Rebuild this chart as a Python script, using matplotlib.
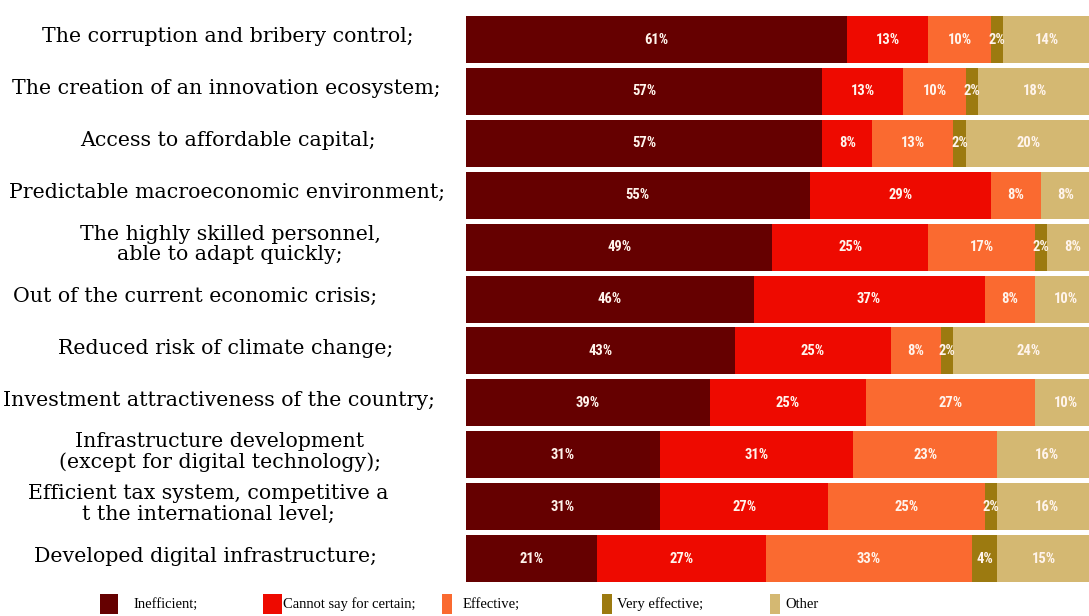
import numpy as np
import matplotlib
matplotlib.use("Agg")
import matplotlib.pyplot as plt
import matplotlib.transforms as mtransforms
from matplotlib import font_manager
from matplotlib.patches import Rectangle

# data (top to bottom)
categories = [
    "The corruption and bribery control;",
    "The creation of an innovation ecosystem;",
    "Access to affordable capital;",
    "Predictable macroeconomic environment;",
    "The highly skilled personnel,\nable to adapt quickly;",
    "Out of the current economic crisis;",
    "Reduced risk of climate change;",
    "Investment attractiveness of the country;",
    "Infrastructure development\n(except for digital technology);",
    "Efficient tax system, competitive a\nt the international level;",
    "Developed digital infrastructure;",
]
inefficient    = [61, 57, 57, 55, 49, 46, 43, 39, 31, 31, 21]
cannot_say     = [13, 13, 8, 29, 25, 37, 25, 25, 31, 27, 27]
effective      = [10, 10, 13, 8, 17, 8, 8, 27, 23, 25, 33]
very_effective = [2, 2, 2, 0, 2, 0, 2, 0, 0, 2, 4]
other          = [14, 18, 20, 8, 8, 10, 24, 10, 16, 16, 15]

series_names = ["Inefficient;", "Cannot say for certain;", "Effective;",
                "Very effective;", "Other"]
colors = ["#650000", "#EE0A00", "#FA6A30", "#9C7A10", "#D4B872"]

# layout of the text (pixels)
label_cx = [228, 226, 228, 227, 230, 195, 226, 219, 220, 208, 205]
legend_patch_x = [100, 263, 442, 602, 770]
legend_patch_w = [18, 19, 10, 10, 10]
legend_text_x = [133, 283, 463, 617, 785]

# pick fonts
avail = set(f.name for f in font_manager.fontManager.ttflist)
serif_font = "DejaVu Serif"
legend_font = "Liberation Serif" if "Liberation Serif" in avail else "DejaVu Serif"
num_font = "DejaVu Sans"
for name in ["Liberation Sans Narrow", "DejaVu Sans Condensed", "Roboto Condensed"]:
    if name in avail:
        num_font = name
        break

W, H = 1089, 616
fig = plt.figure(figsize=(W / 100, H / 100), dpi=100)
ax = fig.add_axes([466 / W, 0.051, 625 / W, 0.927])

data = np.array([inefficient, cannot_say, effective, very_effective, other], dtype=float)
y = np.arange(len(categories))
left = np.zeros(len(categories))
for i, vals in enumerate(data):
    ax.barh(y, vals, left=left, height=0.905, color=colors[i], edgecolor="none")
    for j, v in enumerate(vals):
        if v > 0:
            ax.text(left[j] + v / 2, y[j], f"{int(v)}%", ha="center", va="center",
                    color="#FFF4EC", fontsize=10.5, fontweight="bold", family=num_font)
    left += vals

ax.set_xlim(0, 100)
ax.set_ylim(len(categories) - 0.5, -0.5)
ax.axis("off")

# category labels on the left
trans = mtransforms.blended_transform_factory(fig.transFigure, ax.transData)
for j, cat in enumerate(categories):
    ax.text(label_cx[j] / W, y[j] - 0.05, cat, transform=trans, ha="center", va="center",
            multialignment="center", fontsize=14.8, family=serif_font,
            linespacing=1.1, color="black")

# legend, drawn by hand
for k, name in enumerate(series_names):
    fig.add_artist(Rectangle((legend_patch_x[k] / W, 1 - 614 / H),
                             legend_patch_w[k] / W, 20 / H,
                             transform=fig.transFigure, facecolor=colors[k],
                             edgecolor="none"))
    fig.text(legend_text_x[k] / W, 1 - 604 / H, name, ha="left", va="center",
             fontsize=10.5, family=legend_font, color="black")

fig.savefig("out.png", dpi=100)
